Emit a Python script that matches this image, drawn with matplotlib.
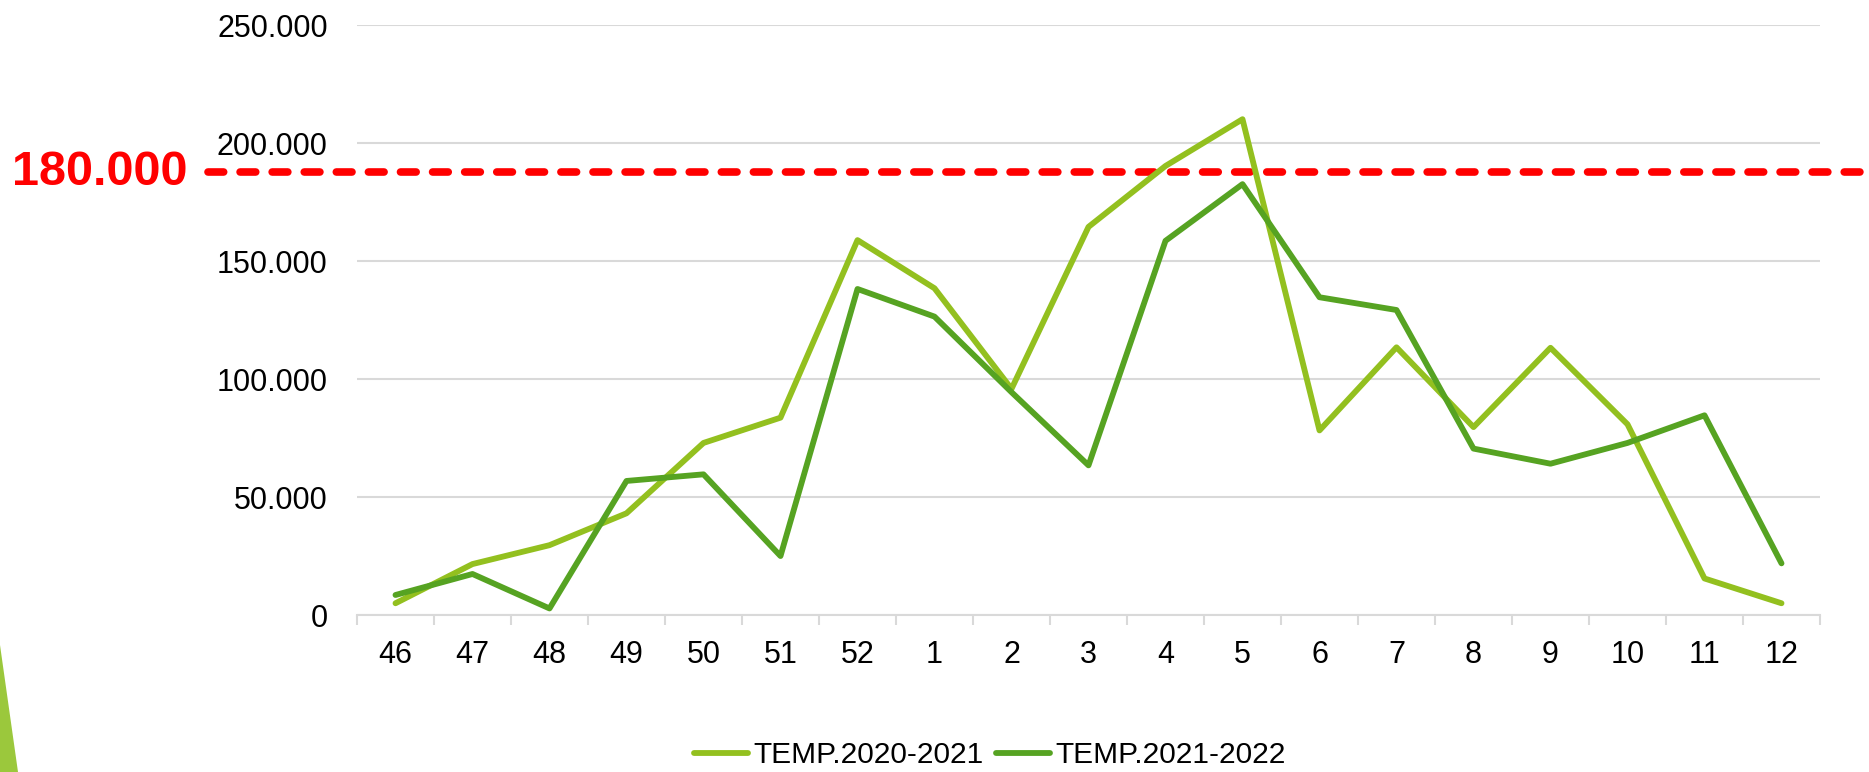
import matplotlib
matplotlib.use('Agg')
from matplotlib import pyplot as plt
from matplotlib.patches import Polygon
from matplotlib.ticker import FuncFormatter
import numpy as np

plt.rcParams['font.family'] = ['Liberation Sans', 'DejaVu Sans']

# Data (weeks of the season)
weeks = ['46', '47', '48', '49', '50', '51', '52', '1', '2', '3',
         '4', '5', '6', '7', '8', '9', '10', '11', '12']
temp_2020_2021 = [5100, 21700, 29700, 43200, 73000, 83700, 158900, 138500, 95900, 164500,
                  190300, 210100, 78300, 113500, 79700, 113300, 80900, 15600, 5100]
temp_2021_2022 = [8600, 17500, 2900, 56900, 59700, 25100, 138200, 126500, 94500, 63500,
                  158600, 182600, 134700, 129300, 70600, 64200, 73000, 84700, 22000]
series_names = ['TEMP.2020-2021', 'TEMP.2021-2022']
threshold_value = 187700
threshold_label = '180.000'

W, H = 1869, 772
fig = plt.figure(figsize=(W / 100, H / 100), dpi=100)
ax = fig.add_axes([357 / W, 1 - 615.3 / H, 1463 / W, 590.3 / H])

x = np.arange(len(weeks))
light = '#93C01F'
dark = '#56A322'

# threshold line, runs out past the plot on both sides
ax.axhline(threshold_value, xmin=(208 - 357) / 1463, xmax=1.1, color='#FF0000',
           lw=5.5, linestyle=(0, (2.05, 2.15)), dash_capstyle='round',
           clip_on=False, zorder=2)

ax.plot(x, temp_2020_2021, color=light, lw=4.2, solid_joinstyle='round',
        solid_capstyle='round', label=series_names[0], zorder=3)
ax.plot(x, temp_2021_2022, color=dark, lw=4.2, solid_joinstyle='round',
        solid_capstyle='round', label=series_names[1], zorder=3)

ax.set_xlim(-0.5, len(weeks) - 0.5)
ax.set_ylim(0, 250000)
ax.set_yticks(np.arange(0, 250001, 50000))
ax.yaxis.set_major_formatter(FuncFormatter(lambda v, p: '0' if v == 0 else f'{int(v):,}'.replace(',', '.')))
ax.set_xticks(x)
ax.set_xticklabels(weeks)
ax.set_xticks(np.arange(-0.5, len(weeks), 1), minor=True)

ax.grid(axis='y', color='#D9D9D9', lw=1.5, zorder=0)
ax.set_axisbelow(True)
for s in ['top', 'right', 'left']:
    ax.spines[s].set_visible(False)
ax.spines['bottom'].set_color('#D9D9D9')
ax.spines['bottom'].set_linewidth(1.5)

ax.tick_params(axis='y', length=0, pad=21, labelsize=22, labelcolor='black')
ax.tick_params(axis='x', which='major', length=0, pad=18, labelsize=22)
ax.tick_params(axis='x', which='minor', length=7.5, width=1.5, color='#D9D9D9')

# red label for the threshold
fig.text(187 / W, 1 - 172.5 / H, threshold_label, color='#FF0000', fontsize=35,
         fontweight='bold', ha='right', va='center')

# decorative green wedge bottom-left
fig.patches.append(Polygon([(0, 1 - 645 / H), (18 / W, 0), (0, 0)], closed=True,
                           transform=fig.transFigure, facecolor='#9BC83C',
                           edgecolor='none'))

fig.legend(loc='center', bbox_to_anchor=(990 / W, 1 - 755 / H), ncol=2,
           frameon=False, fontsize=21.5, handlelength=1.8, handletextpad=0.2,
           columnspacing=0.4)

plt.savefig('out.png', dpi=100)
